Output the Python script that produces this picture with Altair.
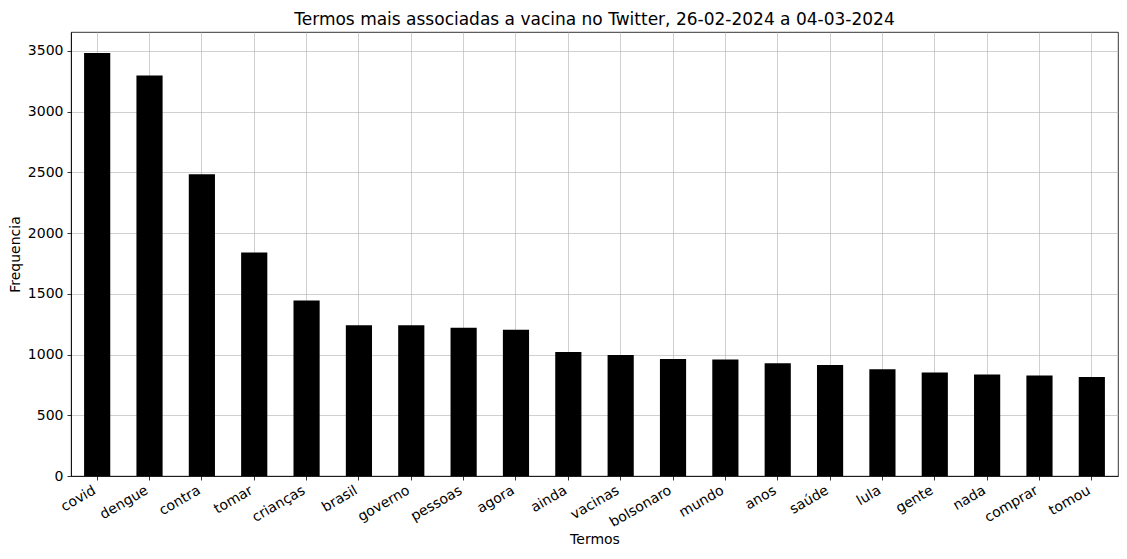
import altair as alt
import pandas as pd

termos = ["covid", "dengue", "contra", "tomar", "crianças", "brasil", "governo",
          "pessoas", "agora", "ainda", "vacinas", "bolsonaro", "mundo", "anos",
          "saúde", "lula", "gente", "nada", "comprar", "tomou"]
frequencia = [3482, 3297, 2485, 1840, 1444, 1241, 1241, 1220, 1204, 1020,
              996, 964, 959, 929, 913, 879, 852, 836, 828, 815]
y_ticks = [0, 500, 1000, 1500, 2000, 2500, 3000, 3500]

df = pd.DataFrame({"Termos": termos, "Frequencia": frequencia})

FONT = "DejaVu Sans"

chart = alt.Chart(df).mark_bar(color="black").encode(
    x=alt.X("Termos:N", sort=termos, title="Termos",
            scale=alt.Scale(paddingInner=0.5, paddingOuter=0.25),
            axis=alt.Axis(labelAngle=330, labelAlign="right", labelBaseline="top",
                          bandPosition=0.5, labelPadding=3, labelOffset=-6,
                          titlePadding=3)),
    y=alt.Y("Frequencia:Q", title="Frequencia",
            scale=alt.Scale(domain=[0, 3655], nice=False, zero=True),
            axis=alt.Axis(values=y_ticks, format="d",
                          labelPadding=4, titlePadding=5)),
).properties(
    width=1047, height=444,
    title=alt.TitleParams("Termos mais associadas a vacina no Twitter, 26-02-2024 a 04-03-2024",
                          fontSize=17, font=FONT, fontWeight="normal", color="black",
                          anchor="middle", offset=3),
    autosize=alt.AutoSizeParams(type="none"),
    padding={"left": 63, "top": 24, "right": 1, "bottom": 74},
).configure_view(
    stroke="black", strokeWidth=0.8
).configure_axis(
    labelFont=FONT, titleFont=FONT, labelFontSize=14, titleFontSize=14,
    titleFontWeight="normal", labelColor="black", titleColor="black",
    grid=True, gridColor="#b0b0b0", gridOpacity=0.75, gridWidth=0.8,
    domainColor="black", domainWidth=0.8, tickColor="black", tickSize=4, tickWidth=0.8,
    zindex=1,
)

chart.save("out.html", embed_options={"renderer": "svg", "actions": False})
